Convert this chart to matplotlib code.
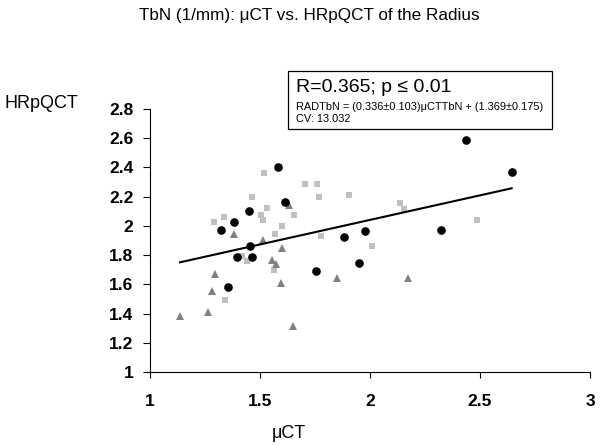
import matplotlib
matplotlib.use("Agg")
import matplotlib.pyplot as plt
import numpy as np
from matplotlib.patches import Rectangle

plt.rcParams['font.family'] = ['Liberation Sans', 'DejaVu Sans']

# black circles
circ_x = [1.580, 1.614, 1.449, 1.382, 1.321, 1.453, 1.397, 1.464, 1.753, 1.355,
          2.438, 2.644, 2.324, 1.880, 1.976, 1.949]
circ_y = [2.402, 2.163, 2.104, 2.027, 1.975, 1.859, 1.784, 1.784, 1.688, 1.584,
          2.588, 2.370, 1.975, 1.925, 1.963, 1.743]

# light grey squares
sq_x = [1.517, 1.705, 1.760, 1.770, 1.903, 1.465, 1.532, 1.655, 1.506, 1.514,
        1.336, 1.291, 1.600, 1.570, 1.776, 2.136, 2.156, 2.486, 2.009, 1.418,
        1.439, 1.562, 1.341]
sq_y = [2.363, 2.290, 2.290, 2.200, 2.213, 2.195, 2.120, 2.072, 2.072, 2.043,
        2.063, 2.027, 2.002, 1.945, 1.934, 2.154, 2.116, 2.043, 1.861, 1.795,
        1.757, 1.700, 1.496]

# dark grey triangles
tri_x = [1.633, 1.380, 1.515, 1.598, 1.553, 1.573, 1.297, 1.597, 1.282, 1.136,
         1.264, 1.650, 1.850, 2.171]
tri_y = [2.145, 1.943, 1.905, 1.847, 1.770, 1.741, 1.673, 1.611, 1.552, 1.382,
         1.411, 1.318, 1.645, 1.645]

fit_slope = 0.336
fit_intercept = 1.369

xticks = [1, 1.5, 2, 2.5, 3]
xtick_labels = ['1', '1.5', '2', '2.5', '3']
yticks = [1, 1.2, 1.4, 1.6, 1.8, 2, 2.2, 2.4, 2.6, 2.8]
ytick_labels = ['1', '1.2', '1.4', '1.6', '1.8', '2', '2.2', '2.4', '2.6', '2.8']

fig = plt.figure(figsize=(6, 4.46), dpi=100)
ax = fig.add_axes([0.25, 0.1659, 0.7333, 0.5897])

ax.plot(sq_x, sq_y, 's', color='#c0c0c0', markersize=4.2, markeredgewidth=0)
ax.plot(tri_x, tri_y, '^', color='#808080', markersize=5.8, markeredgewidth=0)
ax.plot(circ_x, circ_y, 'o', color='black', markersize=6.2, markeredgewidth=0)

all_x = circ_x + sq_x + tri_x
lx = np.array([min(all_x), max(all_x)])
ax.plot(lx, fit_slope * lx + fit_intercept, color='black', linewidth=1.5)

ax.set_xlim(1, 3)
ax.set_ylim(1, 2.8)
ax.set_xticks(xticks)
ax.set_xticklabels(xtick_labels, fontsize=12.5, fontweight='bold')
ax.set_yticks(yticks)
ax.set_yticklabels(ytick_labels, fontsize=12.5, fontweight='bold')
ax.tick_params(axis='x', direction='out', length=4, width=0.8, pad=12)
ax.tick_params(axis='y', direction='out', length=5, width=0.8, pad=7)
ax.spines['top'].set_visible(False)
ax.spines['right'].set_visible(False)
ax.spines['left'].set_linewidth(0.8)
ax.spines['bottom'].set_linewidth(0.8)

fig.text(0.515, 0.965, 'TbN (1/mm): μCT vs. HRpQCT of the Radius',
         ha='center', va='center', fontsize=12.3)
fig.text(0.008, 0.768, 'HRpQCT', ha='left', va='center', fontsize=13)
fig.text(0.482, 0.027, 'μCT', ha='center', va='center', fontsize=13)

# stats box
fig.patches.append(Rectangle((288 / 600, 1 - 129 / 446), 264 / 600, 58.5 / 446,
                             transform=fig.transFigure, fill=False,
                             edgecolor='black', linewidth=0.9))
fig.text(296 / 600, 1 - 87 / 446, 'R=0.365; p ≤ 0.01', ha='left', va='center',
         fontsize=14)
fig.text(296 / 600, 1 - 106.5 / 446,
         'RADTbN = (0.336±0.103)μCTTbN + (1.369±0.175)',
         ha='left', va='center', fontsize=7.9)
fig.text(296 / 600, 1 - 119 / 446, 'CV: 13.032', ha='left', va='center',
         fontsize=7.9)

fig.savefig('out.png', dpi=100)
